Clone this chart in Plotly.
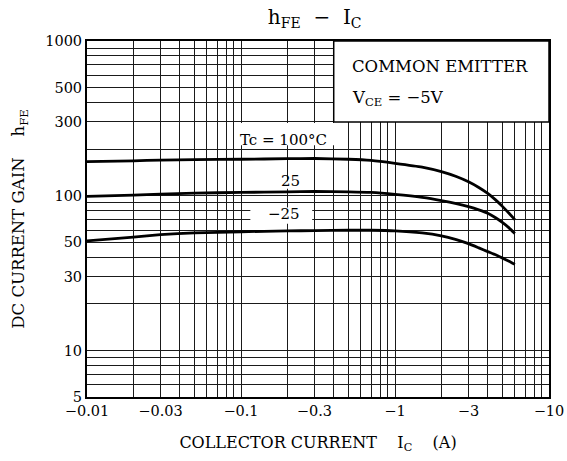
import numpy as np
import plotly.graph_objects as go

# ---- data ----
ic = [0.01, 0.02, 0.03, 0.05, 0.1, 0.2, 0.3, 0.5, 0.7, 1.0, 1.5, 2.0, 2.5, 3.0, 3.5, 4.0, 4.5, 5.0, 5.5, 6.0]
hfe_100 = [166, 168, 170, 171, 172, 173.5, 174, 172, 169, 162, 153, 143, 133, 123, 113, 103.5, 94, 85, 77, 70]
hfe_25 = [99, 101, 102.5, 104, 105, 106, 106.5, 106, 105, 102, 97.5, 93, 89, 85, 81, 77, 72, 67, 62, 57]
hfe_m25 = [51, 54, 56, 57.5, 58.5, 59.2, 59.5, 59.8, 59.8, 59.3, 57.5, 55, 52, 49, 46, 43.5, 41.5, 39.5, 37.7, 36]

series_labels = ["Tc = 100°C", "25", "−25"]

x_tick_vals = [0.01, 0.03, 0.1, 0.3, 1, 3, 10]
x_tick_text = ["−0.01", "−0.03", "−0.1", "−0.3", "−1", "−3", "−10"]
y_tick_vals = [5, 10, 30, 50, 100, 300, 500, 1000]
y_tick_text = ["5", "10", "30", "50", "100", "300", "500", "1000"]

x_grid = [d * k for d in (0.01, 0.1, 1) for k in range(1, 10)] + [10]
y_grid = [5, 6, 7, 8, 9] + [d * k for d in (10, 100) for k in range(1, 10)] + [1000]

FONT = "DejaVu Serif"

def vals_text(grid, tv, tt):
    out = []
    for g in grid:
        lab = ""
        for v, t in zip(tv, tt):
            if abs(np.log10(g) - np.log10(v)) < 1e-9:
                lab = t
        out.append(lab)
    return out

fig = go.Figure()
for ys in (hfe_100, hfe_25, hfe_m25):
    fig.add_trace(go.Scatter(x=ic, y=ys, mode="lines",
                             line=dict(color="black", width=2.8, shape="spline", smoothing=0.4),
                             showlegend=False, hoverinfo="skip"))

fig.update_xaxes(type="log", range=[np.log10(0.01), np.log10(10)],
                 tickvals=x_grid, ticktext=vals_text(x_grid, x_tick_vals, x_tick_text),
                 showgrid=True, gridcolor="#1a1a1a", gridwidth=1,
                 showline=True, linecolor="black", linewidth=2, mirror=True,
                 ticks="", zeroline=False, automargin=False,
                 tickfont=dict(family=FONT, size=14.5, color="black"),
                 title=dict(text="COLLECTOR CURRENT    I<sub>C</sub>    (A)",
                            font=dict(family=FONT, size=16, color="black"), standoff=18))
fig.update_yaxes(type="log", range=[np.log10(5), np.log10(1000)],
                 tickvals=y_grid, ticktext=vals_text(y_grid, y_tick_vals, y_tick_text),
                 showgrid=True, gridcolor="#1a1a1a", gridwidth=1,
                 showline=True, linecolor="black", linewidth=2, mirror=True,
                 ticks="", zeroline=False, automargin=False,
                 tickfont=dict(family=FONT, size=14.5, color="black"),
                 title=dict(text="DC CURRENT GAIN    h<sub>FE</sub>",
                            font=dict(family=FONT, size=16.5, color="black"), standoff=16))

# white boxes (between grid and traces)
boxes = [
    (0.4, 10, 300, 1000, True),
    (0.097, 0.44, 212, 295, False),
    (0.13, 0.29, 111, 124, False),
    (0.115, 0.29, 66, 84, False),
]
for x0, x1, y0, y1, border in boxes:
    fig.add_shape(type="rect", xref="x", yref="y", x0=x0, x1=x1, y0=y0, y1=y1,
                  fillcolor="white",
                  line=dict(color="black" if border else "white", width=1.5 if border else 0),
                  layer="between")

fig.add_annotation(x=np.log10(0.51), y=np.log10(680), xref="x", yref="y",
                   text="COMMON EMITTER", showarrow=False, xanchor="left",
                   font=dict(family=FONT, size=16.5, color="black"))
fig.add_annotation(x=np.log10(0.51), y=np.log10(425), xref="x", yref="y",
                   text="V<sub>CE</sub> = −5V", showarrow=False, xanchor="left",
                   font=dict(family=FONT, size=16.5, color="black"))

label_pos = [(0.19, 228), (0.21, 124), (0.19, 76)]
for (lx, ly), txt in zip(label_pos, series_labels):
    fig.add_annotation(x=np.log10(lx), y=np.log10(ly), xref="x", yref="y",
                       text=txt, showarrow=False,
                       font=dict(family=FONT, size=15, color="black"))

fig.update_layout(
    width=567, height=461,
    margin=dict(l=87, r=18, t=41, b=64),
    paper_bgcolor="white", plot_bgcolor="white",
    title=dict(text="h<sub>FE</sub>  −  I<sub>C</sub>", x=0.555, xanchor="center",
               y=0.963, yanchor="middle",
               font=dict(family=FONT, size=20, color="black")),
)

fig.write_html("out.html", config={"displayModeBar": False},
               post_script="document.body.style.margin='0px';")
